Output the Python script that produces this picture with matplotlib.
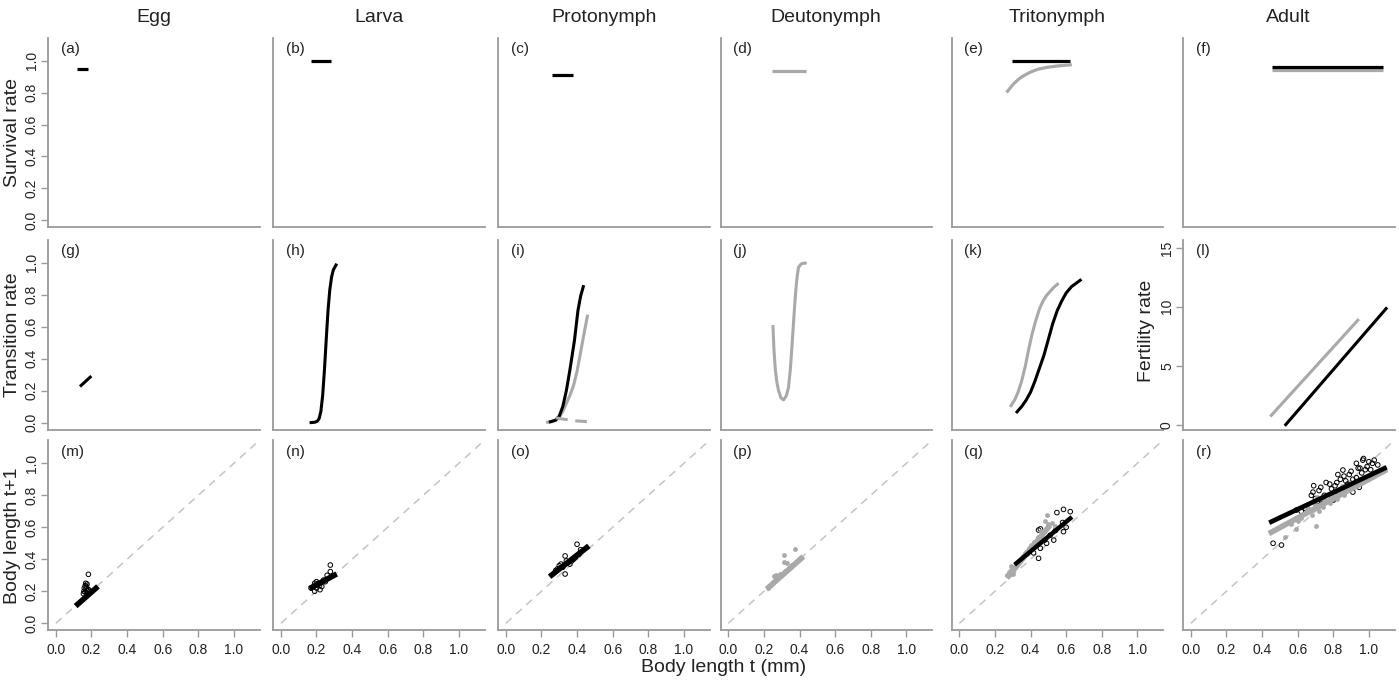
import matplotlib
matplotlib.use('Agg')
import matplotlib.pyplot as plt

plt.rcParams['font.family'] = ['Liberation Sans', 'DejaVu Sans']

BLACK = '#000000'
GRAY = '#a9a9a9'
SPINE = '#9a9a9a'
TXT = '#222222'

stages = ['Egg', 'Larva', 'Protonymph', 'Deutonymph', 'Tritonymph', 'Adult']
panel_letters = list('abcdefghijklmnopqr')
row_ylabels = ['Survival rate', 'Transition rate', 'Body length t+1']
x_ticks = [0.0, 0.2, 0.4, 0.6, 0.8, 1.0]
y_ticks = [0.0, 0.2, 0.4, 0.6, 0.8, 1.0]
fert_ticks = [0, 5, 10, 15]

# ---- Row 1: survival ----
surv_a_x = [0.12, 0.18]; surv_a_y = [0.95, 0.95]
surv_b_x = [0.168, 0.28]; surv_b_y = [1.0, 1.0]
surv_c_x = [0.26, 0.376]; surv_c_y = [0.912, 0.912]
surv_d_x = [0.245, 0.436]; surv_d_y = [0.933, 0.933]
surv_e_black_x = [0.296, 0.623]; surv_e_black_y = [0.994, 0.994]
surv_e_gray_x = [0.271, 0.29, 0.31, 0.33, 0.35, 0.37, 0.40, 0.44, 0.49, 0.55, 0.623]
surv_e_gray_y = [0.808, 0.835, 0.86, 0.88, 0.897, 0.91, 0.928, 0.945, 0.957, 0.966, 0.973]
surv_f_black_x = [0.458, 1.08]; surv_f_black_y = [0.958, 0.958]
surv_f_gray_x = [0.458, 1.08]; surv_f_gray_y = [0.94, 0.94]

# ---- Row 2: transition / fertility ----
tr_g_x = [0.142, 0.193]; tr_g_y = [0.232, 0.284]
tr_h_x = [0.17, 0.19, 0.205, 0.215, 0.225, 0.235, 0.245, 0.255, 0.265, 0.275, 0.285, 0.295, 0.305, 0.31]
tr_h_y = [0.0, 0.002, 0.008, 0.025, 0.07, 0.17, 0.33, 0.52, 0.70, 0.83, 0.91, 0.955, 0.975, 0.985]
tr_i_black_x = [0.25, 0.28, 0.30, 0.32, 0.34, 0.36, 0.385, 0.405, 0.42, 0.435]
tr_i_black_y = [0.005, 0.015, 0.04, 0.10, 0.20, 0.33, 0.51, 0.70, 0.79, 0.85]
tr_i_gray_x = [0.235, 0.26, 0.28, 0.30, 0.32, 0.34, 0.36, 0.38, 0.40, 0.42, 0.44, 0.458]
tr_i_gray_y = [0.002, 0.006, 0.015, 0.035, 0.07, 0.12, 0.17, 0.23, 0.32, 0.44, 0.56, 0.665]
tr_i_dash_x = [0.28, 0.32, 0.36, 0.40, 0.455]
tr_i_dash_y = [0.03, 0.022, 0.015, 0.01, 0.006]
tr_j_x = [0.251, 0.256, 0.264, 0.273, 0.282, 0.295, 0.31, 0.325, 0.338, 0.348, 0.357, 0.367, 0.376, 0.385, 0.394, 0.41, 0.432]
tr_j_y = [0.60, 0.46, 0.33, 0.25, 0.20, 0.155, 0.142, 0.165, 0.22, 0.33, 0.47, 0.64, 0.785, 0.90, 0.97, 0.993, 0.997]
tr_k_gray_x = [0.29, 0.31, 0.33, 0.35, 0.37, 0.39, 0.41, 0.43, 0.45, 0.47, 0.49, 0.51, 0.53, 0.551]
tr_k_gray_y = [0.106, 0.14, 0.19, 0.26, 0.35, 0.46, 0.56, 0.64, 0.71, 0.76, 0.795, 0.82, 0.845, 0.865]
tr_k_black_x = [0.324, 0.35, 0.375, 0.40, 0.425, 0.45, 0.475, 0.50, 0.525, 0.55, 0.575, 0.60, 0.63, 0.655, 0.679]
tr_k_black_y = [0.067, 0.10, 0.14, 0.19, 0.26, 0.34, 0.42, 0.52, 0.62, 0.70, 0.76, 0.81, 0.85, 0.87, 0.89]
fert_gray_x = [0.452, 0.938]; fert_gray_y = [0.79, 8.86]
fert_black_x = [0.533, 1.097]; fert_black_y = [0.0, 9.85]

# ---- Row 3: growth ----
gr_m_line_x = [0.123, 0.225]; gr_m_line_y = [0.119, 0.219]
gr_m_circ_x = [0.183, 0.168, 0.175, 0.165, 0.172, 0.16, 0.17, 0.178, 0.158, 0.165, 0.175, 0.185, 0.155, 0.19]
gr_m_circ_y = [0.306, 0.25, 0.245, 0.235, 0.23, 0.22, 0.215, 0.205, 0.2, 0.195, 0.19, 0.21, 0.185, 0.2]

gr_n_line_x = [0.175, 0.3]; gr_n_line_y = [0.225, 0.30]
gr_n_circ_x = [0.278, 0.278, 0.26, 0.24, 0.2, 0.19, 0.21, 0.185, 0.2, 0.22, 0.19, 0.23, 0.25, 0.17, 0.215]
gr_n_circ_y = [0.364, 0.323, 0.30, 0.27, 0.26, 0.25, 0.25, 0.23, 0.22, 0.21, 0.2, 0.23, 0.26, 0.22, 0.235]

gr_o_line_x = [0.258, 0.454]; gr_o_line_y = [0.302, 0.473]
gr_o_circ_x = [0.40, 0.333, 0.42, 0.333, 0.30, 0.31, 0.32, 0.35, 0.36, 0.38, 0.39, 0.29, 0.34, 0.37, 0.28, 0.41]
gr_o_circ_y = [0.494, 0.421, 0.46, 0.308, 0.36, 0.37, 0.35, 0.38, 0.37, 0.40, 0.41, 0.34, 0.39, 0.39, 0.33, 0.43]

gr_p_line_x = [0.227, 0.41]; gr_p_line_y = [0.225, 0.406]
gr_p_dot_x = [0.22, 0.23, 0.24, 0.25, 0.26, 0.27, 0.28, 0.29, 0.30, 0.31, 0.32, 0.33, 0.34, 0.35, 0.36, 0.37, 0.38, 0.39, 0.40,
              0.315, 0.372, 0.258, 0.27, 0.33, 0.31, 0.29]
gr_p_dot_y = [0.22, 0.235, 0.24, 0.255, 0.262, 0.275, 0.283, 0.295, 0.305, 0.313, 0.325, 0.333, 0.345, 0.353, 0.365, 0.372, 0.385, 0.393, 0.405,
              0.427, 0.464, 0.296, 0.30, 0.375, 0.38, 0.31]

gr_q_black_x = [0.32, 0.623]; gr_q_black_y = [0.375, 0.656]
gr_q_gray_x = [0.277, 0.50]; gr_q_gray_y = [0.296, 0.60]
gr_q_circ_x = [0.585, 0.623, 0.548, 0.445, 0.455, 0.585, 0.60, 0.53, 0.49, 0.455, 0.445, 0.417, 0.54, 0.58, 0.51, 0.48]
gr_q_circ_y = [0.712, 0.698, 0.692, 0.583, 0.59, 0.573, 0.60, 0.52, 0.50, 0.469, 0.406, 0.44, 0.58, 0.63, 0.55, 0.52]
gr_q_dot_x = [0.27, 0.28, 0.29, 0.30, 0.31, 0.32, 0.33, 0.34, 0.35, 0.36, 0.37, 0.38, 0.39, 0.40, 0.42, 0.44, 0.46, 0.48, 0.49, 0.50, 0.52, 0.54, 0.29, 0.38]
gr_q_dot_y = [0.30, 0.32, 0.33, 0.31, 0.35, 0.36, 0.38, 0.39, 0.41, 0.42, 0.44, 0.45, 0.47, 0.49, 0.51, 0.54, 0.58, 0.64, 0.677, 0.62, 0.63, 0.61, 0.36, 0.43]

gr_r_black_x = [0.452, 1.088]; gr_r_black_y = [0.635, 0.969]
gr_r_gray_x = [0.452, 1.088]; gr_r_gray_y = [0.569, 0.953]
gr_r_circ_x = [0.462, 0.509, 0.966, 0.93, 1.0, 0.854, 0.826, 0.686, 0.677, 0.73, 0.78, 0.87, 0.946, 0.91, 0.80, 0.74, 0.70, 0.593, 1.05, 1.02, 0.89,
               0.64, 0.75, 0.84, 0.98, 0.62, 0.72, 0.95, 1.03, 0.88,
               0.76, 0.79, 0.81, 0.83, 0.86, 0.90, 0.93, 0.96, 0.99, 1.01, 0.77, 0.82, 0.85, 0.91, 0.94, 0.97, 0.69, 0.71]
gr_r_circ_y = [0.50, 0.489, 1.02, 1.0, 1.01, 0.958, 0.93, 0.82, 0.80, 0.85, 0.87, 0.89, 0.85, 0.82, 0.77, 0.75, 0.78, 0.708, 0.99, 1.0, 0.93,
               0.72, 0.80, 0.90, 0.96, 0.70, 0.83, 0.97, 1.02, 0.87,
               0.88, 0.84, 0.86, 0.81, 0.92, 0.95, 0.91, 0.94, 0.98, 0.96, 0.78, 0.88, 0.84, 0.90, 0.97, 1.03, 0.86, 0.76]
gr_r_dot_x = [0.705, 0.527, 0.593, 0.65, 0.70, 0.75, 0.80, 0.85, 0.90, 0.95, 0.72, 0.78, 0.82, 0.88, 0.62, 0.68, 0.56, 0.60, 0.92, 0.97, 1.0,
              0.74, 0.77, 0.79, 0.83, 0.86, 0.89, 0.66, 0.71]
gr_r_dot_y = [0.608, 0.54, 0.59, 0.70, 0.74, 0.78, 0.80, 0.86, 0.88, 0.90, 0.70, 0.75, 0.78, 0.84, 0.66, 0.68, 0.62, 0.64, 0.86, 0.91, 0.92,
              0.73, 0.81, 0.77, 0.82, 0.80, 0.86, 0.72, 0.79]

# ---------------- layout ----------------
W, H = 1399, 682
fig = plt.figure(figsize=(W / 100, H / 100), dpi=100)
col_left = [48, 273, 498, 720.5, 951.5, 1183]
col_w = 211.5
row_top = [37.5, 239.6, 440.3]
row_h = 190

axes = [[None] * 6 for _ in range(3)]
for r in range(3):
    for c in range(6):
        ax = fig.add_axes([col_left[c] / W, 1 - (row_top[r] + row_h) / H, col_w / W, row_h / H])
        axes[r][c] = ax
        ax.set_xlim(-0.044, 1.144)
        if r == 1 and c == 5:
            ax.set_ylim(-0.42, 15.7)
        else:
            ax.set_ylim(-0.044, 1.144)
        for s in ['top', 'right']:
            ax.spines[s].set_visible(False)
        for s in ['left', 'bottom']:
            ax.spines[s].set_color(SPINE)
            ax.spines[s].set_linewidth(1.3)
        ax.tick_params(colors=SPINE, labelcolor=TXT, length=5, width=1.0, labelsize=10)
        ax.tick_params(axis='y', pad=1.5)
        if r == 2:
            ax.set_xticks(x_ticks)
            ax.set_xticklabels(['%.1f' % v for v in x_ticks])
            ax.tick_params(axis='x', pad=4)
        else:
            ax.set_xticks([])
        if c == 0:
            ax.set_yticks(y_ticks)
            ax.set_yticklabels(['%.1f' % v for v in y_ticks], rotation=90, va='center')
            ax.set_ylabel(row_ylabels[r], fontsize=14, color=TXT)
            ax.yaxis.set_label_coords((21 - col_left[c]) / col_w, 0.5)
        elif r == 1 and c == 5:
            ax.set_yticks(fert_ticks)
            ax.set_yticklabels([str(v) for v in fert_ticks], rotation=90, va='center')
            ax.set_ylabel('Fertility rate', fontsize=14, color=TXT)
            ax.yaxis.set_label_coords((1155 - col_left[c]) / col_w, 0.52)
        else:
            ax.set_yticks([])
        ax.text(0.06, 0.975, '(%s)' % panel_letters[r * 6 + c], transform=ax.transAxes,
                ha='left', va='top', fontsize=11, color=TXT)
        if r == 0:
            fig.text((col_left[c] + col_w / 2) / W, 1 - 17 / H, stages[c], ha='center', va='center',
                     fontsize=14, color=TXT)
        if r == 2:
            ax.plot([0, 1.2], [0, 1.2], linestyle=(0, (5, 4)), color='#c4c4c4', lw=1.1, zorder=1)

fig.text(724 / W, 1 - 668 / H, 'Body length t (mm)', ha='center', va='center', fontsize=14, color=TXT)

# Row 1
lw_s = 2.3
axes[0][0].plot(surv_a_x, surv_a_y, color=BLACK, lw=lw_s, solid_capstyle='butt')
axes[0][1].plot(surv_b_x, surv_b_y, color=BLACK, lw=lw_s, solid_capstyle='butt')
axes[0][2].plot(surv_c_x, surv_c_y, color=BLACK, lw=lw_s, solid_capstyle='butt')
axes[0][3].plot(surv_d_x, surv_d_y, color=GRAY, lw=lw_s, solid_capstyle='butt')
axes[0][4].plot(surv_e_black_x, surv_e_black_y, color=BLACK, lw=lw_s, solid_capstyle='butt')
axes[0][4].plot(surv_e_gray_x, surv_e_gray_y, color=GRAY, lw=lw_s)
axes[0][5].plot(surv_f_gray_x, surv_f_gray_y, color=GRAY, lw=lw_s, solid_capstyle='butt')
axes[0][5].plot(surv_f_black_x, surv_f_black_y, color=BLACK, lw=lw_s, solid_capstyle='butt')

# Row 2
lw_t = 2.2
axes[1][0].plot(tr_g_x, tr_g_y, color=BLACK, lw=lw_t)
axes[1][1].plot(tr_h_x, tr_h_y, color=BLACK, lw=lw_t)
axes[1][2].plot(tr_i_gray_x, tr_i_gray_y, color=GRAY, lw=lw_t)
axes[1][2].plot(tr_i_black_x, tr_i_black_y, color=BLACK, lw=lw_t)
axes[1][2].plot(tr_i_dash_x, tr_i_dash_y, color=GRAY, lw=lw_t, linestyle=(0, (4, 2.5)))
axes[1][3].plot(tr_j_x, tr_j_y, color=GRAY, lw=lw_t)
axes[1][4].plot(tr_k_gray_x, tr_k_gray_y, color=GRAY, lw=lw_t)
axes[1][4].plot(tr_k_black_x, tr_k_black_y, color=BLACK, lw=lw_t)
axes[1][5].plot(fert_gray_x, fert_gray_y, color=GRAY, lw=lw_t)
axes[1][5].plot(fert_black_x, fert_black_y, color=BLACK, lw=lw_t)

# Row 3
circ_kw = dict(s=11, facecolors='none', edgecolors=BLACK, linewidths=0.7, zorder=3)
dot_kw = dict(s=12, color=GRAY, linewidths=0, zorder=3)
lw_g = 4.0
a = axes[2][0]
a.scatter(gr_m_circ_x, gr_m_circ_y, **circ_kw)
a.plot(gr_m_line_x, gr_m_line_y, color=BLACK, lw=lw_g, zorder=4)
a = axes[2][1]
a.scatter(gr_n_circ_x, gr_n_circ_y, **circ_kw)
a.plot(gr_n_line_x, gr_n_line_y, color=BLACK, lw=lw_g, zorder=4)
a = axes[2][2]
a.scatter(gr_o_circ_x, gr_o_circ_y, **circ_kw)
a.plot(gr_o_line_x, gr_o_line_y, color=BLACK, lw=lw_g, zorder=4)
a = axes[2][3]
a.scatter(gr_p_dot_x, gr_p_dot_y, **dot_kw)
a.plot(gr_p_line_x, gr_p_line_y, color=GRAY, lw=lw_g, zorder=4)
a = axes[2][4]
a.scatter(gr_q_circ_x, gr_q_circ_y, **circ_kw)
a.scatter(gr_q_dot_x, gr_q_dot_y, **dot_kw)
a.plot(gr_q_gray_x, gr_q_gray_y, color=GRAY, lw=lw_g, zorder=4)
a.plot(gr_q_black_x, gr_q_black_y, color=BLACK, lw=lw_g - 0.8, zorder=5)
a = axes[2][5]
a.scatter(gr_r_circ_x, gr_r_circ_y, **circ_kw)
a.scatter(gr_r_dot_x, gr_r_dot_y, **dot_kw)
a.plot(gr_r_gray_x, gr_r_gray_y, color=GRAY, lw=lw_g, zorder=4)
a.plot(gr_r_black_x, gr_r_black_y, color=BLACK, lw=lw_g - 0.6, zorder=5)

fig.savefig('out.png', dpi=100, facecolor='white')
